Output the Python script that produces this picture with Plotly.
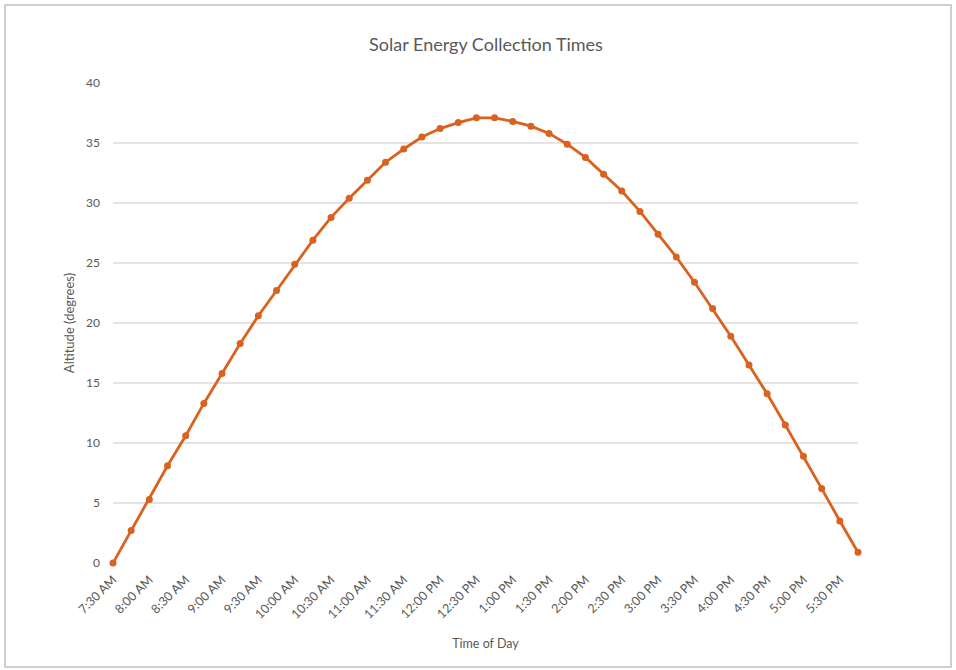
import plotly.graph_objects as go

# Sample times (15-minute steps)
times = [
    "7:30 AM", "7:45 AM", "8:00 AM", "8:15 AM", "8:30 AM", "8:45 AM",
    "9:00 AM", "9:15 AM", "9:30 AM", "9:45 AM", "10:00 AM", "10:15 AM",
    "10:30 AM", "10:45 AM", "11:00 AM", "11:15 AM", "11:30 AM", "11:45 AM",
    "12:00 PM", "12:15 PM", "12:30 PM", "12:45 PM", "1:00 PM", "1:15 PM",
    "1:30 PM", "1:45 PM", "2:00 PM", "2:15 PM", "2:30 PM", "2:45 PM",
    "3:00 PM", "3:15 PM", "3:30 PM", "3:45 PM", "4:00 PM", "4:15 PM",
    "4:30 PM", "4:45 PM", "5:00 PM", "5:15 PM", "5:30 PM", "5:45 PM",
]

# Sun altitude in degrees
altitude = [
    0.0, 2.7, 5.3, 8.1, 10.6, 13.3, 15.8, 18.3, 20.6, 22.7, 24.9, 26.9,
    28.8, 30.4, 31.9, 33.4, 34.5, 35.5, 36.2, 36.7, 37.1, 37.1, 36.8, 36.4,
    35.8, 34.9, 33.8, 32.4, 31.0, 29.3, 27.4, 25.5, 23.4, 21.2, 18.9, 16.5,
    14.1, 11.5, 8.9, 6.2, 3.5, 0.9,
]

# Labelled times on the x axis (every half hour)
tick_labels = [
    "7:30 AM", "8:00 AM", "8:30 AM", "9:00 AM", "9:30 AM", "10:00 AM",
    "10:30 AM", "11:00 AM", "11:30 AM", "12:00 PM", "12:30 PM", "1:00 PM",
    "1:30 PM", "2:00 PM", "2:30 PM", "3:00 PM", "3:30 PM", "4:00 PM",
    "4:30 PM", "5:00 PM", "5:30 PM",
]

y_ticks = [0, 5, 10, 15, 20, 25, 30, 35, 40]

LINE = "#D9621F"
TEXT = "#595959"
GRID = "#E4E4E4"
FONT = "Lato, Liberation Sans, sans-serif"

fig = go.Figure()
fig.add_trace(go.Scatter(
    x=times,
    y=altitude,
    mode="lines+markers",
    line=dict(color=LINE, width=2.8),
    marker=dict(color=LINE, size=7),
    cliponaxis=False,
    showlegend=False,
))

W, H = 956, 670
L, R, T, B = 113, 98, 83, 107
pw, ph = W - L - R, H - T - B

def px_x(x):
    return (x - L) / pw

def px_y(y):
    return (H - B - y) / ph

fig.update_layout(
    width=W,
    height=H,
    margin=dict(l=L, r=R, t=T, b=B),
    paper_bgcolor="white",
    plot_bgcolor="white",
    font=dict(family=FONT, color=TEXT, size=12),
    title=dict(
        text="Solar Energy Collection Times",
        x=(486) / W,
        xanchor="center",
        y=1 - 45 / H,
        yanchor="middle",
        font=dict(size=18, color=TEXT, family=FONT),
    ),
    xaxis=dict(
        type="category",
        categoryorder="array",
        categoryarray=times,
        range=[0, len(times) - 1],
        tickmode="array",
        tickvals=tick_labels,
        ticktext=tick_labels,
        tickangle=-45,
        showgrid=False,
        showline=False,
        zeroline=False,
        ticks="",
        ticklabelstandoff=6,
        tickfont=dict(size=12.5, color=TEXT),
        title=dict(text="Time of Day", font=dict(size=12.5, color=TEXT), standoff=18),
    ),
    yaxis=dict(
        range=[0, 40],
        tickmode="array",
        tickvals=y_ticks,
        showgrid=True,
        gridcolor=GRID,
        gridwidth=1.5,
        zeroline=False,
        showline=False,
        ticks="",
        ticklabelstandoff=12,
        tickfont=dict(size=12, color=TEXT),
        title=dict(text="Altitude (degrees)", font=dict(size=13, color=TEXT), standoff=8),
    ),
    shapes=[
        dict(
            type="rect",
            xref="paper",
            yref="paper",
            x0=px_x(5),
            x1=px_x(951),
            y0=px_y(667),
            y1=px_y(5),
            line=dict(color="#CFCFCF", width=2),
            fillcolor="rgba(0,0,0,0)",
            layer="below",
        )
    ],
)

fig.write_html("out.html")
